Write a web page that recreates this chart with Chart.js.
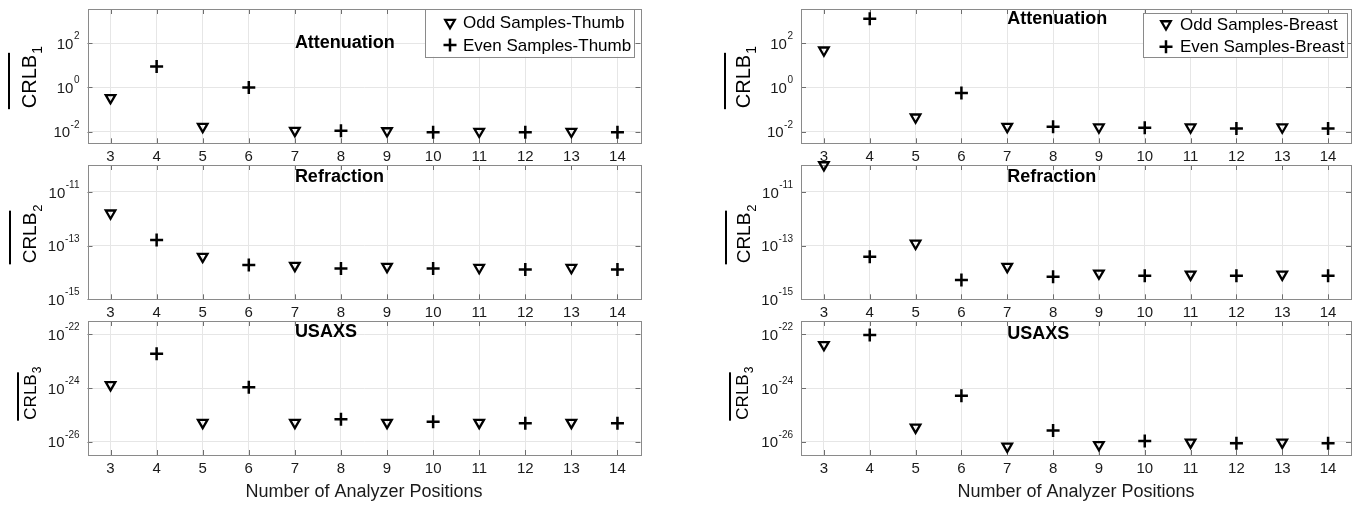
<!DOCTYPE html>
<html lang="en">
<head>
<meta charset="UTF-8">
<title>CRLB vs number of analyzer positions</title>
<script src="https://cdn.jsdelivr.net/npm/chart.js"></script>
<style>
  body {
    margin: 0;
    width: 1360px;
    height: 506px;
    background: #fff;
    position: relative;
    overflow: hidden;
  }
  canvas {
    position: absolute;
  }
</style>
</head>
<body>
<script>
  const FONT = "'Liberation Sans', Arial, Helvetica, sans-serif";

  // x categories
  const xOdd = [3, 5, 7, 9, 11, 13];
  const xEven = [4, 6, 8, 10, 12, 14];
  const xTicks = [3, 4, 5, 6, 7, 8, 9, 10, 11, 12, 13, 14];

  // y tick values per row
  const attTicks = [1e-2, 1e0, 1e2];
  const refTicks = [1e-15, 1e-13, 1e-11];
  const usaxsTicks = [1e-26, 1e-24, 1e-22];

  // thumb (left column)
  const thumbAttOdd = [0.34, 0.017, 0.0112, 0.0108, 0.0102, 0.0102];
  const thumbAttEven = [8.8, 1.0, 0.011, 0.0094, 0.0094, 0.0094];
  const thumbRefOdd = [1.6e-12, 3.9e-14, 1.8e-14, 1.65e-14, 1.5e-14, 1.5e-14];
  const thumbRefEven = [1.6e-13, 1.9e-14, 1.4e-14, 1.4e-14, 1.3e-14, 1.3e-14];
  const thumbUsaxsOdd = [1.3e-24, 5.1e-26, 5.1e-26, 5.1e-26, 5.1e-26, 5.1e-26];
  const thumbUsaxsEven = [1.9e-23, 1.07e-24, 6.8e-26, 5.5e-26, 4.8e-26, 4.8e-26];

  // breast (right column)
  const breastAttOdd = [48, 0.045, 0.017, 0.016, 0.016, 0.016];
  const breastAttEven = [1260, 0.56, 0.0167, 0.015, 0.014, 0.014];
  const breastRefOdd = [1.0e-10, 1.2e-13, 1.65e-14, 9.3e-15, 8.5e-15, 8.5e-15];
  const breastRefEven = [3.8e-14, 5.2e-15, 6.9e-15, 7.6e-15, 7.6e-15, 7.6e-15];
  const breastUsaxsOdd = [4.1e-23, 3.4e-26, 6.6e-27, 7.6e-27, 9.3e-27, 9.3e-27];
  const breastUsaxsEven = [9.5e-23, 5.1e-25, 2.6e-26, 1.05e-26, 8.7e-27, 8.7e-27];

  const thumbLabels = ['Odd Samples-Thumb', 'Even Samples-Thumb'];
  const breastLabels = ['Odd Samples-Breast', 'Even Samples-Breast'];
  const rowTitles = ['Attenuation', 'Refraction', 'USAXS'];
  const xTitle = 'Number of Analyzer Positions';

  // layout (page pixels)
  const colX = [0, 680];
  const boxLeft = [87.5, 121];
  const boxRight = [640.5, 673];
  const rowTop = [0, 150, 310];
  const rowH = [165, 170, 196];
  const boxTop = [8.3, 165, 321];
  const boxBottom = [143.3, 299.3, 455];

  const rows = [
    { ticks: attTicks, min: 3e-3, max: 3.5e3, sub: '1' },
    { ticks: refTicks, min: 1e-15, max: 1e-10, sub: '2' },
    { ticks: usaxsTicks, min: 10 ** -26.5, max: 10 ** -21.5, sub: '3' }
  ];

  const panels = [
    { col: 0, row: 0, odd: thumbAttOdd, even: thumbAttEven, titleY: 1e2,
      ylab: { x: 36, y: 81.5, size: 20, bar: 27 },
      legend: { x1: 425, y1: 9, x2: 634, y2: 56.7, mx: 450, tx: 463, ys: [22.7, 45], labels: thumbLabels } },
    { col: 0, row: 1, odd: thumbRefOdd, even: thumbRefEven, titleY: 10 ** -10.44,
      ylab: { x: 36, y: 238, size: 19, bar: 26 } },
    { col: 0, row: 2, odd: thumbUsaxsOdd, even: thumbUsaxsEven, titleY: 10 ** -21.92,
      ylab: { x: 36, y: 397, size: 17, bar: 18 }, xlabel: true },
    { col: 1, row: 0, odd: breastAttOdd, even: breastAttEven, titleY: 10 ** 3.1,
      ylab: { x: 750, y: 81.5, size: 20, bar: 25 },
      legend: { x1: 1143, y1: 13.3, x2: 1347, y2: 57.3, mx: 1166, tx: 1180, ys: [24, 46.7], labels: breastLabels } },
    { col: 1, row: 1, odd: breastRefOdd, even: breastRefEven, titleY: 10 ** -10.44,
      ylab: { x: 750, y: 238, size: 19, bar: 24 } },
    { col: 1, row: 2, odd: breastUsaxsOdd, even: breastUsaxsEven, titleY: 10 ** -21.99,
      ylab: { x: 748, y: 397, size: 17, bar: 18 }, xlabel: true }
  ];

  const decor = {
    id: 'decor',
    beforeDatasetsDraw(chart) {
      const { ctx, chartArea: a, scales: { x, y } } = chart;
      ctx.save();
      ctx.strokeStyle = '#6e6e6e';
      ctx.lineWidth = 1;
      ctx.beginPath();
      x.ticks.forEach(t => {
        const px = Math.round(x.getPixelForValue(t.value)) + 0.5;
        ctx.moveTo(px, a.bottom); ctx.lineTo(px, a.bottom - 5);
        ctx.moveTo(px, a.top); ctx.lineTo(px, a.top + 5);
      });
      y.ticks.forEach(t => {
        const py = Math.round(y.getPixelForValue(t.value)) + 0.5;
        ctx.moveTo(a.left, py); ctx.lineTo(a.left + 5, py);
        ctx.moveTo(a.right, py); ctx.lineTo(a.right - 5, py);
      });
      ctx.stroke();
      ctx.strokeStyle = '#8a8a8a';
      ctx.strokeRect(Math.round(a.left) + 0.5, Math.round(a.top) + 0.5, Math.round(a.width), Math.round(a.height));
      ctx.restore();
    },
    afterDraw(chart, args, opts) {
      const { ctx, chartArea: a, scales: { x, y } } = chart;
      const ox = opts.ox, oy = opts.oy;
      ctx.save();
      ctx.fillStyle = '#1a1a1a';

      // y tick labels 10^n
      y.ticks.forEach(t => {
        const py = y.getPixelForValue(t.value);
        const e = String(Math.round(Math.log10(t.value)));
        ctx.font = `10px ${FONT}`;
        const ew = ctx.measureText(e).width;
        const right = a.left - 8;
        ctx.textAlign = 'left';
        ctx.textBaseline = 'alphabetic';
        ctx.fillText(e, right - ew, py - 4);
        ctx.font = `15px ${FONT}`;
        ctx.textAlign = 'right';
        ctx.textBaseline = 'middle';
        ctx.fillText('10', right - ew - 0.5, py + 1.5);
      });

      // row title
      ctx.font = `bold 18px ${FONT}`;
      ctx.textAlign = 'left';
      ctx.textBaseline = 'middle';
      ctx.fillStyle = '#000';
      ctx.fillText(opts.title, x.getPixelForValue(7), y.getPixelForValue(opts.titleY));

      // y axis label: overline CRLB with subscript
      const L = opts.ylab;
      ctx.save();
      ctx.translate(L.x - ox, L.y - oy);
      ctx.rotate(-Math.PI / 2);
      ctx.font = `${L.size}px ${FONT}`;
      ctx.textAlign = 'center';
      ctx.textBaseline = 'alphabetic';
      const w = ctx.measureText('CRLB').width;
      ctx.fillText('CRLB', 0, 0);
      ctx.fillRect(-w / 2 - 1, -L.bar - 1, w + 3, 2);
      ctx.font = `${Math.round(L.size * 0.68)}px ${FONT}`;
      ctx.textAlign = 'left';
      ctx.fillText(opts.sub, w / 2 + 1, L.size * 0.3);
      ctx.restore();

      // legend
      const G = opts.legend;
      if (G) {
        ctx.fillStyle = '#fff';
        ctx.fillRect(G.x1 - ox, G.y1 - oy, G.x2 - G.x1, G.y2 - G.y1);
        ctx.strokeStyle = '#8a8a8a';
        ctx.lineWidth = 1;
        ctx.strokeRect(Math.round(G.x1 - ox) + 0.5, Math.round(G.y1 - oy) + 0.5, Math.round(G.x2 - G.x1), Math.round(G.y2 - G.y1));
        chart.data.datasets.forEach((ds, i) => {
          ctx.strokeStyle = '#000';
          ctx.fillStyle = 'rgba(0,0,0,0)';
          ctx.lineWidth = ds.pointBorderWidth;
          Chart.helpers.drawPoint(ctx, {
            pointStyle: ds.pointStyle, rotation: ds.pointRotation,
            radius: ds.pointRadius, borderWidth: ds.pointBorderWidth
          }, G.mx - ox, G.ys[i] - oy);
          ctx.fillStyle = '#000';
          ctx.font = `17px ${FONT}`;
          ctx.textAlign = 'left';
          ctx.textBaseline = 'middle';
          ctx.fillText(G.labels[i], G.tx - ox, G.ys[i] - oy + 1);
        });
      }
      ctx.restore();
    }
  };

  panels.forEach(p => {
    const r = rows[p.row];
    const left = colX[p.col], top = rowTop[p.row];
    const W = 680, H = rowH[p.row];
    const xh = top + H - boxBottom[p.row];

    const cv = document.createElement('canvas');
    cv.width = W; cv.height = H;
    cv.style.left = left + 'px';
    cv.style.top = top + 'px';
    cv.style.width = W + 'px';
    cv.style.height = H + 'px';
    document.body.appendChild(cv);

    new Chart(cv, {
      type: 'scatter',
      data: {
        datasets: [
          {
            label: (p.legend || {}).labels ? p.legend.labels[0] : 'Odd',
            data: xOdd.map((v, i) => ({ x: v, y: p.odd[i] })),
            pointStyle: 'triangle', pointRotation: 180,
            pointRadius: 5.5, pointHoverRadius: 5.5, pointBorderWidth: 2.3,
            pointBorderColor: '#000', pointBackgroundColor: 'rgba(0,0,0,0)',
            clip: false
          },
          {
            label: (p.legend || {}).labels ? p.legend.labels[1] : 'Even',
            data: xEven.map((v, i) => ({ x: v, y: p.even[i] })),
            pointStyle: 'cross', pointRotation: 0,
            pointRadius: 6.5, pointHoverRadius: 6.5, pointBorderWidth: 2.5,
            pointBorderColor: '#000', pointBackgroundColor: 'rgba(0,0,0,0)',
            clip: false
          }
        ]
      },
      options: {
        responsive: false,
        animation: false,
        events: [],
        layout: {
          padding: {
            left: boxLeft[p.col],
            right: W - boxRight[p.col],
            top: boxTop[p.row] - top,
            bottom: 0
          }
        },
        plugins: {
          legend: { display: false },
          tooltip: { enabled: false },
          decor: {
            ox: left, oy: top,
            title: rowTitles[p.row], titleY: p.titleY,
            ylab: p.ylab, sub: r.sub, legend: p.legend
          }
        },
        scales: {
          x: {
            type: 'linear', min: 2.5, max: 14.5,
            afterBuildTicks: s => { s.ticks = xTicks.map(v => ({ value: v })); },
            afterFit: s => { s.height = xh; },
            ticks: { font: { family: FONT, size: 15 }, color: '#1a1a1a', padding: 4.5, maxRotation: 0, autoSkip: false },
            grid: { color: '#e6e6e6', drawTicks: false },
            border: { display: false },
            title: {
              display: !!p.xlabel, text: xTitle, color: '#1a1a1a',
              font: { family: FONT, size: 18 }, padding: { top: 0, bottom: 3.5 }
            }
          },
          y: {
            type: 'logarithmic', min: r.min, max: r.max,
            afterBuildTicks: s => { s.ticks = r.ticks.map(v => ({ value: v })); },
            afterFit: s => { s.width = 0; },
            ticks: { display: false },
            grid: { color: '#e6e6e6', drawTicks: false },
            border: { display: false }
          }
        }
      },
      plugins: [decor]
    });
  });
</script>
</body>
</html>
